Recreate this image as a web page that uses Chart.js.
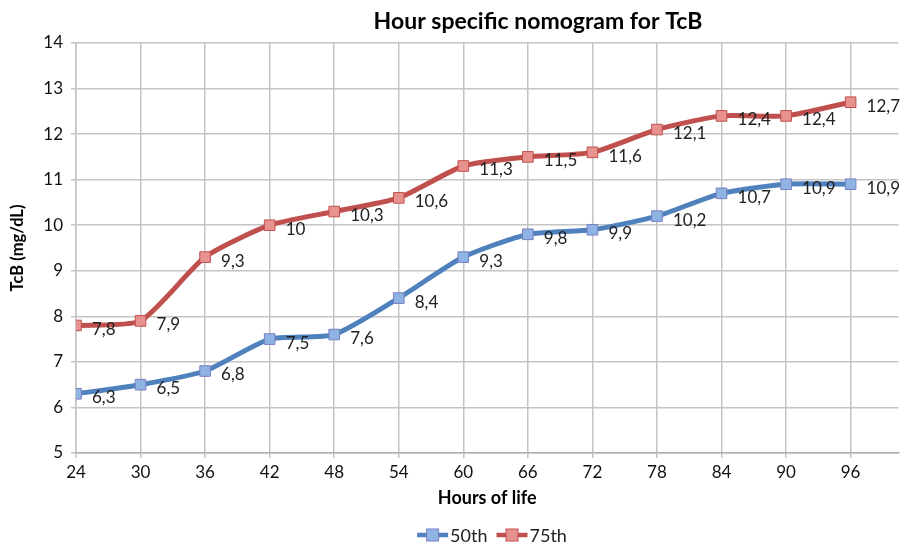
<!DOCTYPE html>
<html>
<head>
<meta charset="utf-8">
<script src="https://cdn.jsdelivr.net/npm/chart.js@4"></script>
<style>
  html, body { margin: 0; padding: 0; background: #fff; }
  #wrap { width: 907px; height: 542px; position: relative; }
</style>
</head>
<body>
<div id="wrap"><canvas id="c" width="907" height="542"></canvas></div>
<script>
const chartTitle = 'Hour specific nomogram for TcB';
const xTitle = 'Hours of life';
const yTitle = 'TcB (mg/dL)';
const hours = [24, 30, 36, 42, 48, 54, 60, 66, 72, 78, 84, 90, 96];
const seriesNames = ['50th', '75th'];
const p50 = [6.3, 6.5, 6.8, 7.5, 7.6, 8.4, 9.3, 9.8, 9.9, 10.2, 10.7, 10.9, 10.9];
const p75 = [7.8, 7.9, 9.3, 10, 10.3, 10.6, 11.3, 11.5, 11.6, 12.1, 12.4, 12.4, 12.7];
const yTicks = [5, 6, 7, 8, 9, 10, 11, 12, 13, 14];

const FONT = 'Lato, "Open Sans", sans-serif';
const styles = [
  { line: '#4F81BD', fill: '#8EB4E3', border: '#7B7FC4' },
  { line: '#C0504D', fill: '#E8928F', border: '#C0504D' }
];

const fmt = v => String(v).replace('.', ',');

const labelPlugin = {
  id: 'extras',
  afterDatasetsDraw(chart) {
    const ctx = chart.ctx;
    ctx.save();
    ctx.font = '17px ' + FONT;
    ctx.fillStyle = '#222';
    ctx.textAlign = 'left';
    ctx.textBaseline = 'middle';
    chart.data.datasets.forEach((ds, i) => {
      const meta = chart.getDatasetMeta(i);
      meta.data.forEach((pt, j) => {
        ctx.fillText(fmt(ds.data[j].y), pt.x + 16, pt.y + 4);
      });
    });
    // title
    ctx.font = 'bold 23px ' + FONT;
    ctx.fillStyle = '#000';
    ctx.textAlign = 'center';
    ctx.fillText(chartTitle, 538, 22);
    // legend
    ctx.font = '18px ' + FONT;
    ctx.textAlign = 'left';
    const legendY = 535;
    const items = seriesNames.map((n, i) => ({ n, s: styles[i], w: ctx.measureText(n).width }));
    const sym = 31, gap = 2, between = 9;
    let total = 0;
    items.forEach((it, i) => { total += sym + gap + it.w + (i ? between : 0); });
    let x = 492 - total / 2;
    items.forEach((it, i) => {
      if (i) x += between;
      ctx.strokeStyle = it.s.line;
      ctx.lineWidth = 4.5;
      ctx.beginPath();
      ctx.moveTo(x, legendY);
      ctx.lineTo(x + sym, legendY);
      ctx.stroke();
      ctx.fillStyle = it.s.fill;
      ctx.strokeStyle = it.s.border;
      ctx.lineWidth = 1;
      ctx.fillRect(x + sym / 2 - 6, legendY - 6, 12, 12);
      ctx.strokeRect(x + sym / 2 - 6, legendY - 6, 12, 12);
      ctx.fillStyle = '#222';
      ctx.fillText(it.n, x + sym + gap, legendY + 1);
      x += sym + gap + it.w;
    });
    ctx.restore();
  }
};

const datasets = [p50, p75].map((arr, i) => ({
  label: seriesNames[i],
  data: arr.map((v, j) => ({ x: hours[j], y: v })),
  borderColor: styles[i].line,
  backgroundColor: styles[i].fill,
  borderWidth: 5,
  pointStyle: 'rect',
  pointRadius: 7.5,
  pointHoverRadius: 7.5,
  pointBackgroundColor: styles[i].fill,
  pointBorderColor: styles[i].border,
  pointBorderWidth: 1,
  tension: 0.2
}));

new Chart(document.getElementById('c'), {
  type: 'line',
  data: { datasets },
  options: {
    responsive: false,
    animation: false,
    events: [],
    layout: { padding: { top: 43, right: 0, bottom: 33, left: 0 } },
    plugins: {
      legend: { display: false },
      title: { display: false },
      tooltip: { enabled: false }
    },
    scales: {
      x: {
        type: 'linear',
        min: hours[0],
        max: 100.45,
        afterBuildTicks(scale) {
          scale.ticks = hours.map(h => ({ value: h }));
        },
        afterFit(scale) {
          scale.height = 56;
        },
        ticks: {
          font: { family: FONT, size: 17 },
          color: '#111',
          padding: 4,
          maxRotation: 0,
          autoSkip: false
        },
        grid: { color: '#C4C4C4', lineWidth: 1.5, tickLength: 5, tickColor: '#C4C4C4' },
        border: { color: '#B0B0B0', width: 1.5 },
        title: {
          display: true,
          text: xTitle,
          font: { family: FONT, size: 18, weight: 'bold' },
          color: '#000',
          padding: { top: 0, bottom: 0 }
        }
      },
      y: {
        min: 5,
        max: 14,
        afterBuildTicks(scale) {
          scale.ticks = yTicks.map(v => ({ value: v }));
        },
        afterFit(scale) { scale.width = 76; },
        ticks: {
          font: { family: FONT, size: 17 },
          color: '#111',
          padding: 8
        },
        grid: { color: '#C4C4C4', lineWidth: 1.5, tickLength: 5, tickColor: '#C4C4C4' },
        border: { color: '#C4C4C4', width: 1.5 },
        title: {
          display: true,
          text: yTitle,
          font: { family: FONT, size: 16.5, weight: 'bold' },
          color: '#000',
          padding: { top: 8, bottom: 0 }
        }
      }
    }
  },
  plugins: [labelPlugin]
});
</script>
</body>
</html>
